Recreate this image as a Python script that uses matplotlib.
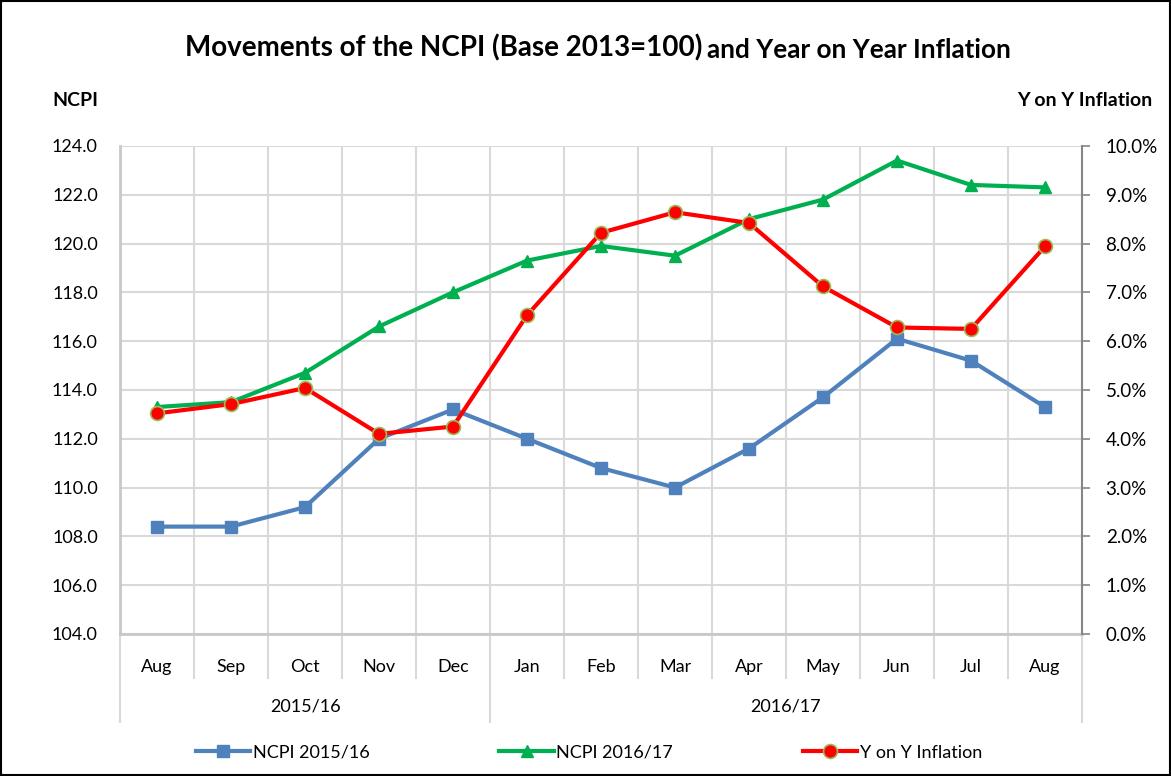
import matplotlib
matplotlib.use("Agg")
import matplotlib.pyplot as plt
from matplotlib.patches import Rectangle
from matplotlib.ticker import FuncFormatter, MultipleLocator
import matplotlib.transforms as mtransforms

months = ["Aug", "Sep", "Oct", "Nov", "Dec", "Jan", "Feb", "Mar",
          "Apr", "May", "Jun", "Jul", "Aug"]
years = ["2015/16", "2016/17"]
year_spans = [(0, 4), (5, 12)]   # first / last month index of each year group

ncpi_1516 = [108.4, 108.4, 109.2, 112.0, 113.2, 112.0, 110.8, 110.0,
             111.6, 113.7, 116.1, 115.2, 113.3]
ncpi_1617 = [113.3, 113.5, 114.7, 116.6, 118.0, 119.3, 119.9, 119.5,
             121.0, 121.8, 123.4, 122.4, 122.3]
yoy_infl = [0.0452, 0.0471, 0.0504, 0.0410, 0.0425, 0.0653, 0.0822, 0.0864,
            0.0842, 0.0712, 0.0628, 0.0625, 0.0794]

plt.rcParams["font.family"] = ["Lato", "DejaVu Sans"]

BLUE = "#4f81bd"
GREEN = "#00b050"
RED = "#ff0000"
GRID = "#d9d9d9"

fig = plt.figure(figsize=(11.71, 7.76), dpi=100)
ax = fig.add_axes([0.1025, 0.183, 0.8215, 0.629])
ax2 = ax.twinx()

x = list(range(len(months)))
ax.plot(x, ncpi_1516, color=BLUE, lw=3, marker="s", ms=9,
        label="NCPI 2015/16", zorder=3)
ax.plot(x, ncpi_1617, color=GREEN, lw=3, marker="^", ms=9,
        label="NCPI 2016/17", zorder=3)
ax2.plot(x, yoy_infl, color=RED, lw=3, marker="o", ms=10,
         markerfacecolor=RED, markeredgecolor="#9bbb59", markeredgewidth=1.2,
         label="Y on Y Inflation", zorder=3)

ax.set_xlim(-0.5, len(months) - 0.5)
ax.set_ylim(104, 124)
ax.yaxis.set_major_locator(MultipleLocator(2))
ax.yaxis.set_major_formatter(FuncFormatter(lambda v, p: f"{v:.1f}"))
ax2.set_ylim(0, 0.10)
ax2.yaxis.set_major_locator(MultipleLocator(0.01))
ax2.yaxis.set_major_formatter(FuncFormatter(lambda v, p: f"{v*100:.1f}%"))

# grid: horizontal at ticks, vertical at category boundaries
ax.grid(axis="y", color=GRID, lw=1.5)
ax.set_xticks([i - 0.5 for i in range(1, len(months))], minor=True)
ax.grid(axis="x", which="minor", color=GRID, lw=1.5)
ax.set_axisbelow(True)

ax.set_xticks(x)
ax.set_xticklabels(months)
ax.tick_params(axis="x", which="both", length=0, labelsize=13, pad=18)
ax.tick_params(axis="y", length=0, labelsize=13, pad=16)
ax2.tick_params(axis="y", length=6, width=1.2, color="#868686",
                labelsize=13.5, pad=11)

for sp in ("top",):
    ax.spines[sp].set_visible(False)
    ax2.spines[sp].set_visible(False)
ax.spines["left"].set_color("#c8c8c8")
ax.spines["left"].set_linewidth(2)
ax.spines["bottom"].set_color("#c8c8c8")
ax.spines["bottom"].set_linewidth(2)
ax.spines["right"].set_visible(False)
ax2.spines["left"].set_visible(False)
ax2.spines["bottom"].set_visible(False)
ax2.spines["right"].set_color("#868686")
ax2.spines["right"].set_linewidth(1.5)

# multi-level category separators below the axis
trans = mtransforms.blended_transform_factory(ax.transData, ax.transAxes)
for i in range(len(months) + 1):
    b = i - 0.5
    is_year_edge = b in (-0.5, year_spans[0][1] + 0.5, len(months) - 0.5)
    y_end = -0.18 if is_year_edge else -0.09
    ax.plot([b, b], [0, y_end], transform=trans, color=GRID, lw=1.5,
            clip_on=False)
for (a, b), lab in zip(year_spans, years):
    ax.text((a + b) / 2, -0.148, lab, transform=trans, ha="center",
            va="center", fontsize=13)

# two-part title: the second half is set a little smaller
fig.text(0.6, 0.938, "Movements of the NCPI (Base 2013=100)",
         ha="right", va="center", fontsize=20, fontweight="bold")
fig.text(0.604, 0.936, "and Year on Year Inflation",
         ha="left", va="center", fontsize=18.8, fontweight="bold")
fig.text(0.045, 0.871, "NCPI", ha="left", va="center", fontsize=14,
         fontweight="bold")
fig.text(0.984, 0.871, "Y on Y Inflation", ha="right", va="center",
         fontsize=14, fontweight="bold")

h1, l1 = ax.get_legend_handles_labels()
h2, l2 = ax2.get_legend_handles_labels()
fig.legend(h1 + h2, l1 + l2, loc="center", bbox_to_anchor=(0.503, 0.03),
           ncol=3, frameon=False, fontsize=13, handlelength=3,
           columnspacing=7.2, handletextpad=0.15)

fig.patches.append(Rectangle((0.001, 0.001), 0.998, 0.998,
                             transform=fig.transFigure, fill=False,
                             edgecolor="black", lw=1.5))

fig.savefig("out.png", dpi=100, facecolor="white")
